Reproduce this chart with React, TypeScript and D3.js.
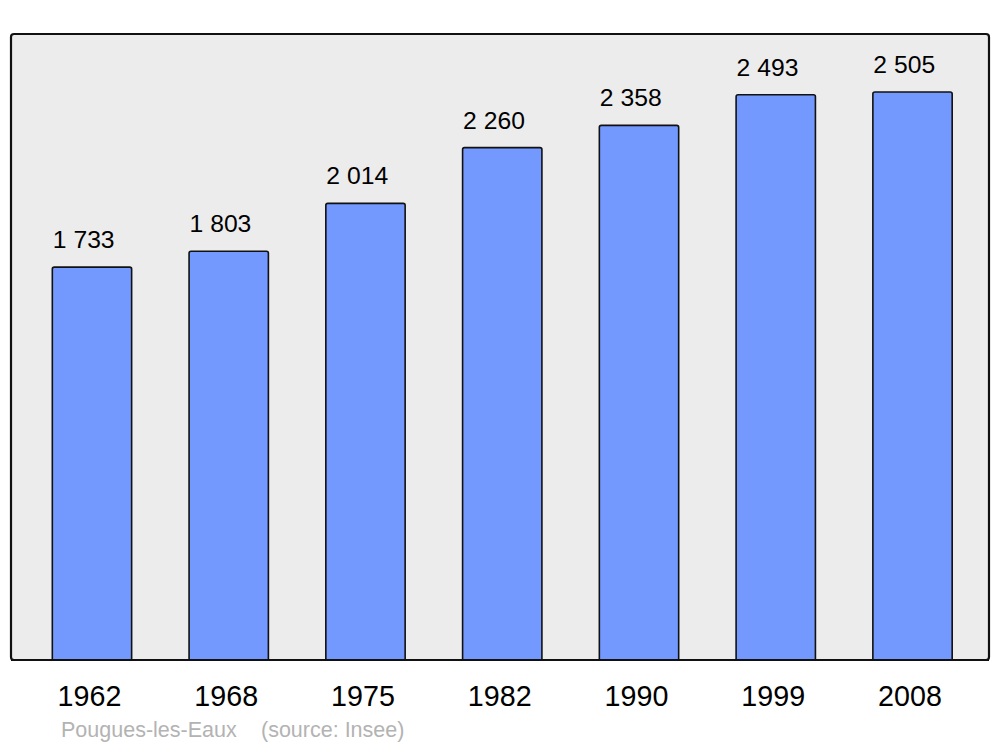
import React from "react";
import * as d3 from "d3";

const years = ["1962", "1968", "1975", "1982", "1990", "1999", "2008"];
const population = [1733, 1803, 2014, 2260, 2358, 2493, 2505];
const valueLabels = ["1 733", "1 803", "2 014", "2 260", "2 358", "2 493", "2 505"];
const commune = "Pougues-les-Eaux";
const source = "(source: Insee)";

export default function App() {
  const W = 1000, H = 747;
  const frame = { x0: 11, y0: 34, x1: 989, y1: 660 };
  const x = d3.scaleBand<string>().domain(years).range([23.6, 980.9]).paddingInner(0.42).paddingOuter(0.21);
  const y = d3.scaleLinear().domain([0, 2761]).range([frame.y1, frame.y0]);
  const font = "'Liberation Sans', Arial, sans-serif";
  return (
    <svg width={W} height={H} style={{ position: "absolute", left: 0, top: 0 }}>
      <rect x={frame.x0} y={frame.y0} width={frame.x1 - frame.x0} height={frame.y1 - frame.y0}
        rx={3} ry={3} fill="#ececec" stroke="#111" strokeWidth={2.2} />
      {years.map((yr, i) => {
        const bx = x(yr)!;
        const top = y(population[i]);
        return (
          <g key={yr}>
            <path
              d={`M${bx},${frame.y1} V${top + 2} Q${bx},${top} ${bx + 2},${top} H${bx + x.bandwidth() - 2} Q${bx + x.bandwidth()},${top} ${bx + x.bandwidth()},${top + 2} V${frame.y1}`}
              fill="#7399ff" stroke="#111" strokeWidth={1.6} />
            <text x={bx + 0.5} y={top - 19} fontFamily={font} fontSize={24.7} fill="#000">
              {valueLabels[i]}
            </text>
            <text x={bx + x.bandwidth() / 2 - 2.5} y={705.5} textAnchor="middle" fontFamily={font} fontSize={28.7} fill="#000">
              {yr}
            </text>
          </g>
        );
      })}
      <line x1={frame.x0} x2={frame.x1} y1={frame.y1} y2={frame.y1} stroke="#111" strokeWidth={2.2} />
      <text x={61} y={737} fontFamily={font} fontSize={21.5} fill="#b3b3b3">{commune}</text>
      <text x={261} y={737} fontFamily={font} fontSize={21.5} fill="#b3b3b3">{source}</text>
    </svg>
  );
}
